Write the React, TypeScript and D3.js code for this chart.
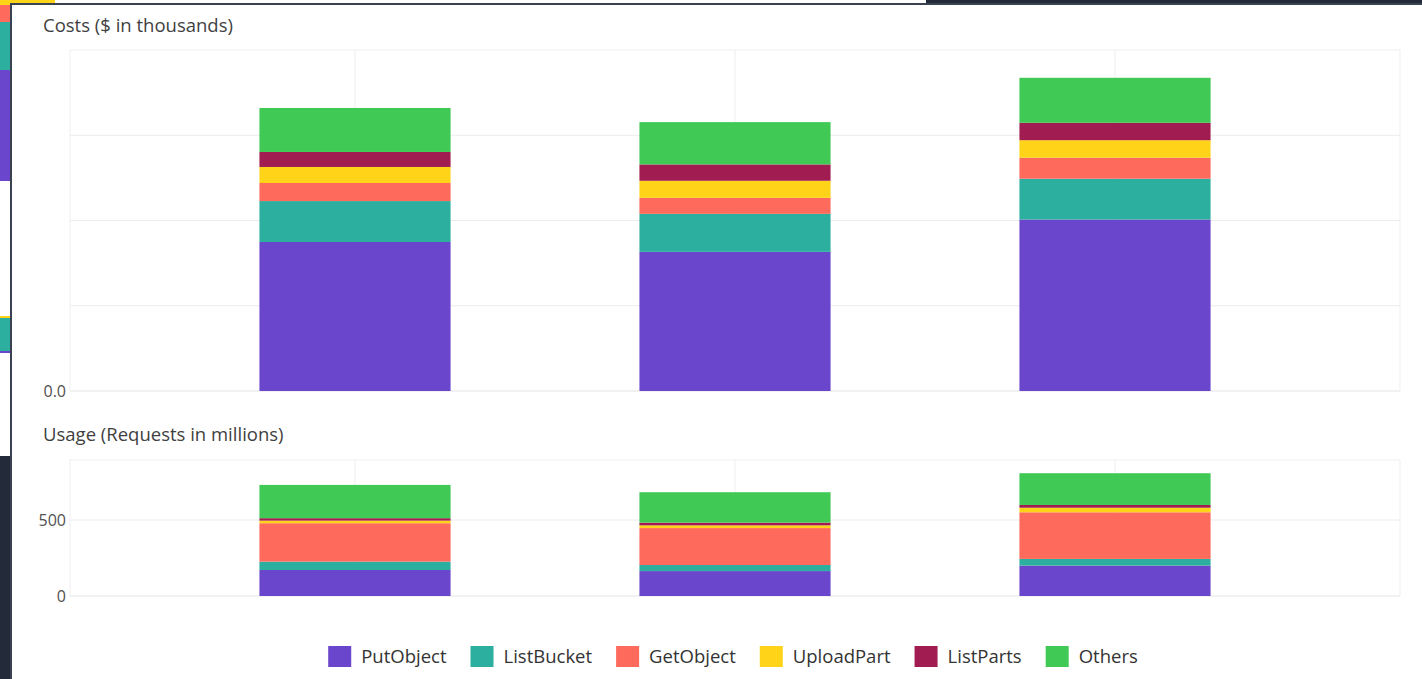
import React, { useEffect, useRef } from "react";
import * as d3 from "d3";

// ---- Data ----
const categories = ["Period 1", "Period 2", "Period 3"];
const seriesNames = ["PutObject", "ListBucket", "GetObject", "UploadPart", "ListParts", "Others"];
const seriesColors = ["#6946cc", "#2daf9f", "#fe6a5b", "#fed318", "#a11c50", "#40ca55"];

// Costs ($ in thousands)
const costPutObject = [0.874, 0.816, 1.006];
const costListBucket = [0.24, 0.223, 0.239];
const costGetObject = [0.106, 0.094, 0.123];
const costUploadPart = [0.094, 0.1, 0.103];
const costListParts = [0.088, 0.096, 0.102];
const costOthers = [0.258, 0.248, 0.264];

// Usage (Requests in millions)
const usagePutObject = [171, 164, 200];
const usageListBucket = [55, 40, 44];
const usageGetObject = [253, 243, 307];
const usageUploadPart = [17, 18, 30];
const usageListParts = [16, 18, 18];
const usageOthers = [219, 200, 209];

const costTicks = [0, 0.5, 1.0, 1.5];
const costTickLabels = ["0.0", "", "", ""];
const costMax = 2.0;
const usageTicks = [0, 500];
const usageTickLabels = ["0", "500"];
const usageMax = 895;

const FONT = "'Open Sans', 'Noto Sans', sans-serif";

export default function App() {
  const ref = useRef<SVGSVGElement | null>(null);

  useEffect(() => {
    document.body.style.margin = "0";
    const svg = d3.select(ref.current);
    svg.selectAll("*").remove();

    // ---- backdrop (surrounding screenshot UI) ----
    svg.append("rect").attr("x", 0).attr("y", 0).attr("width", 1422).attr("height", 679).attr("fill", "#232b3b");
    svg.append("rect").attr("x", 0).attr("y", 0).attr("width", 926).attr("height", 456).attr("fill", "#ffffff");
    const strip = [
      ["#fed318", 0, 5], ["#fe6a5b", 5, 22], ["#2daf9f", 22, 70], ["#6946cc", 70, 181],
      ["#fed318", 316, 318], ["#2daf9f", 318, 351], ["#6946cc", 351, 353],
    ] as [string, number, number][];
    strip.forEach(([c, y0, y1]) => {
      svg.append("rect").attr("x", 0).attr("y", y0).attr("width", 12).attr("height", y1 - y0).attr("fill", c);
    });
    svg.append("rect").attr("x", 0).attr("y", 0).attr("width", 55).attr("height", 5).attr("fill", "#fed318");
    // main panel
    svg.append("rect").attr("x", 11).attr("y", 4).attr("width", 1412).attr("height", 677)
      .attr("fill", "#ffffff").attr("stroke", "#3a4150").attr("stroke-width", 2);

    const x = d3.scaleLinear().domain([-0.75, 2.75]).range([70, 1400]);
    const barW = x(0.503) - x(0);

    const drawPanel = (
      title: string, titleY: number, top: number, bottom: number, max: number,
      ticks: number[], tickLabels: string[], series: number[][]
    ) => {
      const y = d3.scaleLinear().domain([0, max]).range([bottom, top]);
      const g = svg.append("g");
      g.append("text").attr("x", 43).attr("y", titleY).attr("font-family", FONT)
        .attr("font-size", 18.5).attr("fill", "#3f3f3f").text(title);
      // frame
      g.append("rect").attr("x", x(-0.75)).attr("y", top).attr("width", x(2.75) - x(-0.75))
        .attr("height", bottom - top).attr("fill", "none").attr("stroke", "#efefef").attr("stroke-width", 1);
      // horizontal grid
      ticks.forEach((t) => {
        g.append("line").attr("x1", x(-0.75)).attr("x2", x(2.75)).attr("y1", y(t)).attr("y2", y(t))
          .attr("stroke", "#ececec").attr("stroke-width", 1);
      });
      // vertical grid at categories
      categories.forEach((_, i) => {
        g.append("line").attr("x1", x(i)).attr("x2", x(i)).attr("y1", top).attr("y2", bottom)
          .attr("stroke", "#efefef").attr("stroke-width", 1);
      });
      // tick labels
      ticks.forEach((t, i) => {
        if (!tickLabels[i]) return;
        g.append("text").attr("x", 66).attr("y", y(t)).attr("dy", "0.35em").attr("text-anchor", "end")
          .attr("font-family", FONT).attr("font-size", 16).attr("fill", "#505050").text(tickLabels[i]);
      });
      // stacked bars
      const rows = categories.map((c, i) => {
        const r: any = { category: c, idx: i };
        seriesNames.forEach((s, k) => (r[s] = series[k][i]));
        return r;
      });
      const stacked = d3.stack<any>().keys(seriesNames)(rows);
      stacked.forEach((layer, k) => {
        g.selectAll(null).data(layer).enter().append("rect")
          .attr("x", (d: any) => x(d.data.idx) - barW / 2)
          .attr("width", barW)
          .attr("y", (d: any) => y(d[1]))
          .attr("height", (d: any) => y(d[0]) - y(d[1]))
          .attr("fill", seriesColors[k]);
      });
    };

    drawPanel("Costs ($ in thousands)", 32, 50, 391, costMax, costTicks, costTickLabels,
      [costPutObject, costListBucket, costGetObject, costUploadPart, costListParts, costOthers]);
    drawPanel("Usage (Requests in millions)", 441, 460, 596, usageMax, usageTicks, usageTickLabels,
      [usagePutObject, usageListBucket, usageGetObject, usageUploadPart, usageListParts, usageOthers]);

    // legend
    const lg = svg.append("g");
    const sq = 23, gap = 10, spacing = 24;
    const items = seriesNames.map((s, k) => {
      const it = lg.append("g");
      it.append("rect").attr("x", 0).attr("y", -11).attr("width", sq).attr("height", 21).attr("fill", seriesColors[k]);
      const t = it.append("text").attr("x", sq + gap).attr("y", 0).attr("dy", "0.35em")
        .attr("font-family", FONT).attr("font-size", 18.5).attr("fill", "#333333").text(s);
      const w = (t.node() as SVGTextElement).getComputedTextLength();
      return { it, w: sq + gap + w };
    });
    const total = d3.sum(items, (d) => d.w) + spacing * (items.length - 1);
    let cx = 733 - total / 2;
    items.forEach((d) => {
      d.it.attr("transform", `translate(${cx},657)`);
      cx += d.w + spacing;
    });
  }, []);

  return <svg ref={ref} width={1422} height={679} style={{ display: "block" }} />;
}
